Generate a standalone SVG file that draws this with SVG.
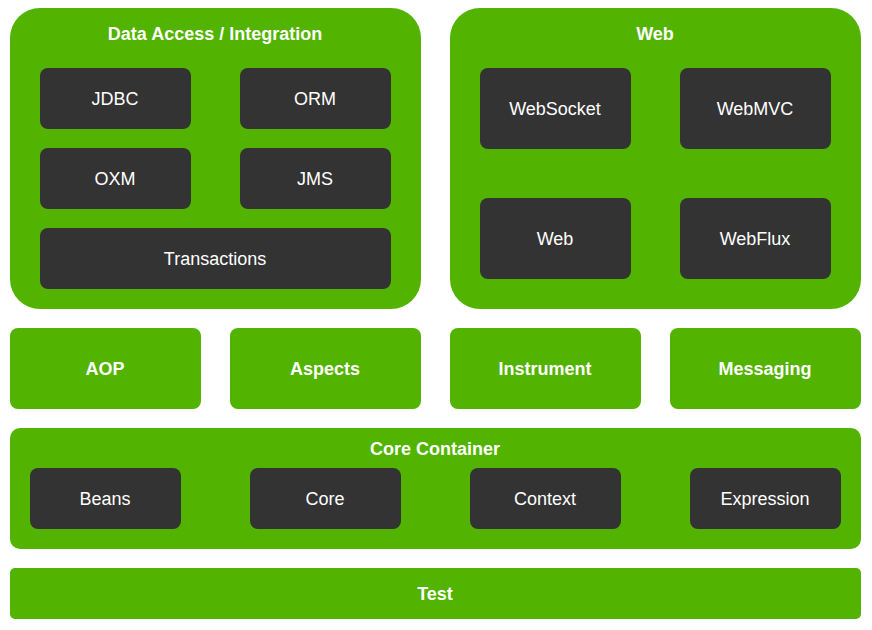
<svg xmlns="http://www.w3.org/2000/svg" width="872" height="630" viewBox="0 0 872 630">
<style>
.g{fill:#52b300}
.d{fill:#333333}
text{font-family:"Liberation Sans",Arial,sans-serif;font-size:18px;fill:#ffffff;text-anchor:middle;dominant-baseline:central}
.b{font-weight:bold}
</style>
<rect width="872" height="630" fill="#ffffff"/>
<g id="data-access">
<rect class="g" x="10" y="8" width="411" height="301" rx="30"/>
<text class="b" x="215" y="34">Data Access / Integration</text>
</g>
<g id="jdbc"><rect class="d" x="40" y="68" width="151" height="61" rx="8"/><text x="115" y="99">JDBC</text></g>
<g id="orm"><rect class="d" x="240" y="68" width="151" height="61" rx="8"/><text x="315" y="99">ORM</text></g>
<g id="oxm"><rect class="d" x="40" y="148" width="151" height="61" rx="8"/><text x="115" y="179">OXM</text></g>
<g id="jms"><rect class="d" x="240" y="148" width="151" height="61" rx="8"/><text x="315" y="179">JMS</text></g>
<g id="transactions"><rect class="d" x="40" y="228" width="351" height="61" rx="8"/><text x="215" y="259">Transactions</text></g>
<g id="web-group">
<rect class="g" x="450" y="8" width="411" height="301" rx="30"/>
<text class="b" x="655" y="34">Web</text>
</g>
<g id="websocket"><rect class="d" x="480" y="68" width="151" height="81" rx="8"/><text x="555" y="109">WebSocket</text></g>
<g id="webmvc"><rect class="d" x="680" y="68" width="151" height="81" rx="8"/><text x="755" y="109">WebMVC</text></g>
<g id="web"><rect class="d" x="480" y="198" width="151" height="81" rx="8"/><text x="555" y="239">Web</text></g>
<g id="webflux"><rect class="d" x="680" y="198" width="151" height="81" rx="8"/><text x="755" y="239">WebFlux</text></g>
<g id="aop"><rect class="g" x="10" y="328" width="191" height="81" rx="8"/><text class="b" x="105" y="369">AOP</text></g>
<g id="aspects"><rect class="g" x="230" y="328" width="191" height="81" rx="8"/><text class="b" x="325" y="369">Aspects</text></g>
<g id="instrument"><rect class="g" x="450" y="328" width="191" height="81" rx="8"/><text class="b" x="545" y="369">Instrument</text></g>
<g id="messaging"><rect class="g" x="670" y="328" width="191" height="81" rx="8"/><text class="b" x="765" y="369">Messaging</text></g>
<g id="core-container">
<rect class="g" x="10" y="428" width="851" height="121" rx="10"/>
<text class="b" x="435" y="449">Core Container</text>
</g>
<g id="beans"><rect class="d" x="30" y="468" width="151" height="61" rx="8"/><text x="105" y="499">Beans</text></g>
<g id="core"><rect class="d" x="250" y="468" width="151" height="61" rx="8"/><text x="325" y="499">Core</text></g>
<g id="context"><rect class="d" x="470" y="468" width="151" height="61" rx="8"/><text x="545" y="499">Context</text></g>
<g id="expression"><rect class="d" x="690" y="468" width="151" height="61" rx="8"/><text x="765" y="499">Expression</text></g>
<g id="test"><rect class="g" x="10" y="568" width="851" height="51" rx="5"/><text class="b" x="435" y="594">Test</text></g>
<g id="connectors"/>
</svg>
